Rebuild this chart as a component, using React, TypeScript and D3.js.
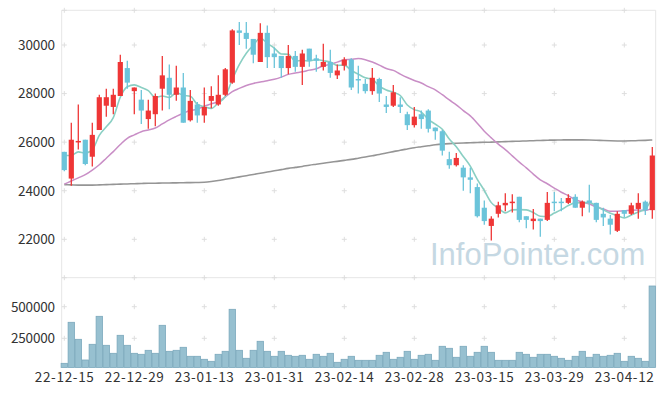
import React from "react";
import * as d3 from "d3";

// ---- data ----
const opens = [25600,24500,26000,26100,25400,26500,27500,27450,27900,29050,28100,27750,26950,27150,28200,28650,27950,28250,26900,27550,27100,27700,27550,27950,28450,30600,30500,30250,29300,30500,29650,29550,29050,29550,29100,29850,29450,29100,29300,28750,29150,29400,28600,28400,28100,28600,27550,27500,27550,27150,26700,27150,27300,26600,26450,25300,25050,24950,24550,24150,23300,22550,23050,23400,23500,23750,22950,22750,22850,22800,23550,23550,23500,23750,23300,23600,23500,23050,22850,22350,23200,23050,23250,23550,23200];
const highs = [25600,26800,27550,26100,26800,27950,28200,28200,29600,29350,28250,28150,27750,28000,29550,29200,29150,28850,28150,27650,28250,28300,28750,29050,30650,30950,30950,30250,30900,30800,29900,29550,30000,29750,29800,29850,29600,30050,29800,29200,29500,29450,29150,28600,29050,28650,27900,28350,27850,27250,27450,27300,27350,26600,26500,25600,25550,25050,24950,24300,23600,22950,23550,23900,23850,23750,22950,23250,22850,23950,23950,23700,23850,23850,23600,24250,23500,23300,23000,23150,23200,23500,23900,23600,25800];
const lows = [24800,24200,25700,25050,25000,26500,27050,27150,27900,28200,27150,26750,26550,26650,27300,27350,27700,26800,26850,26800,26800,27400,27500,27900,28400,30000,29850,29250,29300,29050,29050,28650,28800,28900,28350,29100,28900,28950,28650,28600,28950,28150,28000,28000,27950,27650,27200,27450,27200,26500,26600,26550,26400,26100,25450,24900,25000,24000,23900,22900,22600,21950,22900,23150,23100,22700,22450,22400,22100,22750,23150,23150,23450,23300,22950,23100,22700,22550,22200,22300,22900,23000,22850,23000,22850];
const closes = [24850,26100,26050,25100,26300,27850,27850,27950,29300,28450,28250,27300,27300,27900,28750,27950,28250,26800,27700,27100,27450,27900,27950,29000,30600,30500,30250,29600,30500,29500,29500,29050,29550,29100,29650,29350,29350,29300,28850,28950,29400,28250,28550,28100,28650,28000,27450,28050,27450,26700,27050,26950,26550,26450,25650,25050,25350,24550,24450,22950,22750,22850,23400,23500,23550,22800,22800,22850,22750,23500,23500,23500,23700,23300,23550,23500,22800,22900,22600,23050,23050,23400,23500,23200,25450];
const volumes = [52000,376600,242000,78300,202500,424000,194600,131300,273700,194600,131300,123400,155000,131300,352800,147100,155000,178800,107600,107600,83900,68000,123400,147100,479400,155000,91800,155000,226300,147100,107600,147100,115500,107600,115500,83900,123400,107600,131300,60100,83900,107600,75900,75900,75900,115500,139200,83900,99700,147100,83900,115500,123400,75900,186700,170900,99700,186700,107600,139200,186700,139200,75900,75900,75900,139200,123400,99700,123400,123400,107600,91800,75900,107600,147100,99700,123400,107600,115500,131300,68000,107600,91800,68000,663700];
// moving-average values before enough closes are on screen
const ma5Head = [25450,25450,25600,25550];
const ma20Head = [24270,24400,24530,24660,24850,25070,25340,25610,25900,26160,26300,26430,26500,26580,26750,26920,27060,27190,27300];
// long moving average
const maLong = [24250,24240,24230,24230,24230,24240,24250,24260,24270,24280,24290,24300,24305,24310,24315,24320,24325,24330,24335,24340,24350,24380,24420,24470,24520,24570,24620,24670,24720,24770,24820,24870,24920,24960,25000,25050,25090,25130,25170,25210,25250,25290,25340,25390,25440,25490,25550,25610,25670,25720,25770,25810,25850,25890,25920,25940,25955,25965,25975,25985,25995,26000,26010,26020,26030,26040,26050,26060,26070,26080,26085,26090,26095,26095,26095,26090,26080,26065,26055,26050,26050,26055,26065,26075,26090];
const tickLabels = ["22-12-15","22-12-29","23-01-13","23-01-31","23-02-14","23-02-28","23-03-15","23-03-29","23-04-12"];
const tickIdx = [0,10,20,30,40,50,60,70,80];
const priceTicks = [22000,24000,26000,28000,30000];
const volTicks = [250000,500000];

function movingAvg(n: number, head: number[]) {
  return closes.map((c, i) => (i < n - 1 ? head[i] : (d3.mean(closes.slice(i - n + 1, i + 1)) as number)));
}

export default function App() {
  const W = 665, H = 396;
  const left = 61.7, right = 655.7, top = 10.3, mainBottom = 277.7, volBottom = 367.5;
  const x = d3.scaleLinear().domain([0, closes.length - 1]).range([64.3, 652.3]);
  const y = d3.scaleLinear().domain([22000, 30000]).range([239.3, 45]);
  const yv = d3.scaleLinear().domain([0, 500000]).range([369.9, 306.7]);
  const up = "#ef3636", down = "#6bc4da";
  const ma5 = movingAvg(5, ma5Head);
  const ma20 = movingAvg(20, ma20Head);
  const line = (arr: number[]) =>
    d3.line<number>().x((_, i) => x(i)).y((d) => y(d)).curve(d3.curveMonotoneX)(arr) || "";
  const gridX = tickIdx.map((i) => x(i));
  const gridY = [top, ...priceTicks.map((t) => y(t)), mainBottom, ...volTicks.map((t) => yv(t))];
  const font = "'Noto Sans CJK KR', 'Noto Sans', sans-serif";
  return (
    <svg width={W} height={H} style={{ position: "absolute", left: 0, top: 0, background: "#fff" }}>
      {/* frame */}
      <g stroke="#e6e6e6" strokeWidth={1} fill="none">
        <line x1={left} x2={left} y1={top} y2={volBottom} />
        <line x1={right} x2={right} y1={top} y2={volBottom} />
        <line x1={left} x2={right} y1={top} y2={top} />
        <line x1={left} x2={right} y1={mainBottom} y2={mainBottom} />
      </g>
      {/* grid crosses */}
      <g stroke="#dedede" strokeWidth={1}>
        {gridX.map((gx) =>
          gridY.map((gy) => (
            <g key={gx + "-" + gy}>
              <line x1={gx - 2.5} x2={gx + 2.5} y1={gy} y2={gy} />
              <line x1={gx} x2={gx} y1={gy - 2.5} y2={gy + 2.5} />
            </g>
          ))
        )}
      </g>
      {/* watermark */}
      <text x={430} y={265} fontFamily="'Liberation Sans', Arial, sans-serif" fontSize={31} fill="#bfd4e0" opacity={0.9}>
        InfoPointer.com
      </text>
      {/* volume bars */}
      <g>
        {volumes.map((v, i) => (
          <rect key={i} x={x(i) - 3.2} width={6.4} y={yv(v)} height={volBottom - yv(v)} fill="#97c0d0" stroke="#7ba8bc" strokeWidth={0.8} />
        ))}
      </g>
      {/* moving averages */}
      <path d={line(maLong)} fill="none" stroke="#959595" strokeWidth={1.6} />
      <path d={line(ma20)} fill="none" stroke="#c98ec6" strokeWidth={1.5} />
      <path d={line(ma5)} fill="none" stroke="#8acfc3" strokeWidth={1.6} />
      {/* candles */}
      <g>
        {closes.map((c, i) => {
          const o = opens[i];
          const col = c >= o ? up : down;
          const yt = y(Math.max(o, c));
          const yb = y(Math.min(o, c));
          const h = Math.max(yb - yt, 1.5);
          return (
            <g key={i}>
              <line x1={x(i)} x2={x(i)} y1={y(highs[i])} y2={y(lows[i])} stroke={col} strokeWidth={1.3} />
              <rect x={x(i) - 2.6} width={5.2} y={yt} height={h} fill={col} />
            </g>
          );
        })}
      </g>
      {/* axes labels */}
      <g fontFamily={font} fontSize={13.5} fill="#333">
        {priceTicks.map((t) => (
          <text key={t} x={55} y={y(t)} dy="0.36em" textAnchor="end" textLength={37} lengthAdjust="spacing">{t}</text>
        ))}
        {volTicks.map((t) => (
          <text key={t} x={55} y={yv(t)} dy="0.36em" textAnchor="end" textLength={44} lengthAdjust="spacing">{t}</text>
        ))}
        {tickIdx.map((ti, k) => (
          <text key={ti} x={x(ti)} y={381.7} textAnchor="middle" textLength={59} lengthAdjust="spacing">{tickLabels[k]}</text>
        ))}
      </g>
    </svg>
  );
}
